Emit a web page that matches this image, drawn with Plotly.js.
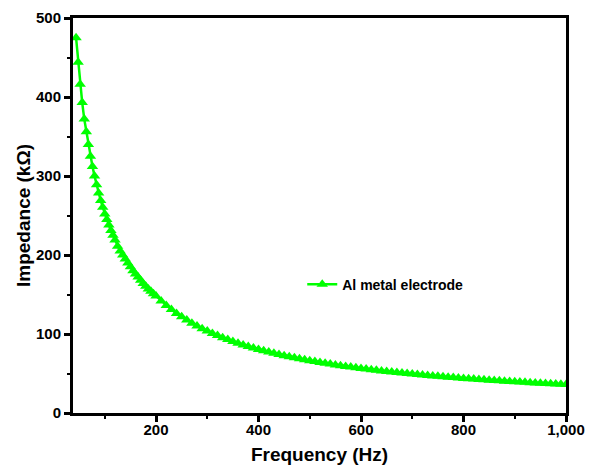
<!DOCTYPE html>
<html>
<head>
<meta charset="utf-8">
<script src="https://cdn.plot.ly/plotly-3.0.1.min.js"></script>
<style>html,body{margin:0;padding:0;background:#fff;}#chart{width:589px;height:470px;}</style>
</head>
<body>
<div id="chart"></div>
<script>
const frequency = [44,48,52,56,60,64,68,72,76,80,84,88,92,96,100,104,108,112,116,120,
125,130,135,140,145,150,155,160,165,170,175,180,185,190,195,200,
210,220,230,240,250,260,270,280,290,300,310,320,330,340,350,360,370,380,390,400,
410,420,430,440,450,460,470,480,490,500,510,520,530,540,550,560,570,580,590,600,
610,620,630,640,650,660,670,680,690,700,710,720,730,740,750,760,770,780,790,800,
810,820,830,840,850,860,870,880,890,900,910,920,930,940,950,960,970,980,990,1000];
const impedance = [475,444,416,393,372,356,340,325,312,300,289,278.5,269,260.5,252,245,238,231,225,219,
211,205,200,195,190,185,180,176,172,168,164,160.5,157,154,151,148,
141.8,136.1,130.9,126.1,121.7,117.6,113.7,110.1,106.8,103.7,100.7,98.0,95.4,92.9,90.5,88.3,86.2,84.2,82.3,80.5,
78.8,77.2,75.6,74.1,72.6,71.2,69.9,68.6,67.4,66.2,65.1,64.0,62.9,61.9,60.9,59.9,59.0,58.1,57.3,56.4,
55.6,54.8,54.0,53.3,52.6,51.9,51.2,50.5,49.9,49.3,48.7,48.1,47.5,46.9,46.4,45.8,45.3,44.8,44.3,43.8,
43.3,42.9,42.4,42.0,41.5,41.1,40.7,40.3,39.9,39.5,39.1,38.8,38.4,38.0,37.7,37.3,37.0,36.7,36.3,36.0];
const seriesName = "Al metal electrode";
const xTicks = [200,400,600,800,1000];
const xTickText = ["200","400","600","800","1,000"];
const yTicks = [0,100,200,300,400,500];

const FONT = "'Liberation Sans', Arial, sans-serif";
const trace = {
  x: frequency, y: impedance, name: seriesName,
  type: 'scatter', mode: 'lines+markers',
  line: {color: '#00ff00', width: 2.5},
  marker: {symbol: 'triangle-up', size: 10, color: '#00ff00'},
  showlegend: true
};
const axisCommon = {
  showline: true, linecolor: '#000', linewidth: 3, mirror: true,
  ticks: 'outside', ticklen: 6, tickwidth: 3, tickcolor: '#000',
  showgrid: false, zeroline: false,
  tickfont: {family: FONT, size: 15, color: '#000', weight: 'bold'}
};
const layout = {
  width: 589, height: 470,
  margin: {l: 73, r: 23, t: 18, b: 57},
  paper_bgcolor: '#fff', plot_bgcolor: '#fff',
  xaxis: Object.assign({}, axisCommon, {
    range: [38, 1000], tickmode: 'array', tickvals: xTicks, ticktext: xTickText,
    ticklabelstandoff: -5,
    minor: {dtick: 100, tick0: 0, ticks: 'outside', ticklen: 3, tickwidth: 2, tickcolor: '#000'},
    title: {text: 'Frequency (Hz)', font: {family: FONT, size: 19, color: '#000', weight: 'bold'}, standoff: 11}
  }),
  yaxis: Object.assign({}, axisCommon, {
    range: [0, 500], tickmode: 'array', tickvals: yTicks,
    minor: {dtick: 50, tick0: 0, ticks: 'outside', ticklen: 3, tickwidth: 2, tickcolor: '#000'},
    title: {text: 'Impedance (kΩ)', font: {family: FONT, size: 19, color: '#000', weight: 'bold'}, standoff: 1}
  }),
  legend: {
    x: 0.465, y: 0.325, xanchor: 'left', yanchor: 'middle',
    bgcolor: 'rgba(0,0,0,0)', borderwidth: 0,
    font: {family: FONT, size: 14, color: '#000', weight: 'bold'}
  }
};
Plotly.newPlot('chart', [trace], layout, {displayModeBar: false, staticPlot: true});
</script>
</body>
</html>
